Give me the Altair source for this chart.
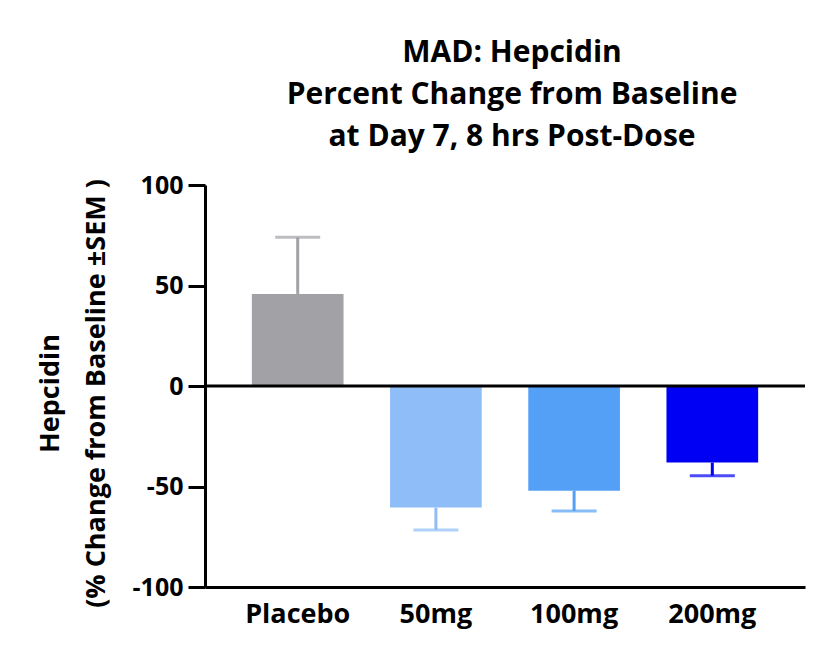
import altair as alt
import pandas as pd

groups = ["Placebo", "50mg", "100mg", "200mg"]
means = [45.8, -60.5, -52.1, -38.1]
sems = [28.2, 11.1, 10.1, 6.5]
colors = ["#a2a1a6", "#8fbdf7", "#55a0f7", "#0000f5"]

df = pd.DataFrame({"group": groups, "mean": means, "sem": sems, "color": colors})
df["err_end"] = [m + s if m >= 0 else m - s for m, s in zip(means, sems)]

FONT = "Open Sans"

x_enc = alt.X("group:N", sort=groups,
              scale=alt.Scale(paddingInner=0.3366, paddingOuter=0.339),
              axis=alt.Axis(title=None, ticks=False, domainWidth=3, domainColor="black",
                            labelFontSize=27, labelFont=FONT, labelFontWeight="bold",
                            labelColor="black", labelPadding=14, labelAngle=0))
y_scale = alt.Scale(domain=[-100, 100], nice=False, zero=False)

bars = alt.Chart(df).mark_bar().encode(
    x=x_enc,
    y=alt.Y("mean:Q", scale=y_scale,
            axis=alt.Axis(values=[-100, -50, 0, 50, 100], grid=False,
                          labelExpr="datum.value + ''",
                          title=["Hepcidin", "(% Change from Baseline ±SEM )"],
                          titleFont=FONT, titleFontSize=27, titleFontWeight="bold",
                          titleColor="black", titleLineHeight=46,
                          titleAngle=270, titleBaseline="bottom", titleAlign="center",
                          titleX=-141, titleY=208,
                          labelFont=FONT, labelFontSize=25, labelFontWeight="bold",
                          labelColor="black", labelPadding=5,
                          tickSize=17, tickWidth=3, tickColor="black",
                          domainWidth=3, domainColor="black")),
    y2=alt.datum(0),
    color=alt.Color("color:N", scale=None),
)

stems = alt.Chart(df).mark_rule(strokeWidth=3).encode(
    x=alt.X("group:N", sort=groups),
    y=alt.Y("mean:Q"),
    y2="err_end:Q",
    color=alt.Color("color:N", scale=None),
)

caps = alt.Chart(df).mark_tick(size=45, thickness=3).encode(
    x=alt.X("group:N", sort=groups),
    y=alt.Y("err_end:Q"),
    color=alt.Color("color:N", scale=None),
)

zero = alt.Chart(pd.DataFrame({"z": [0]})).mark_rule(strokeWidth=3, color="black").encode(
    y=alt.Y("z:Q"),
)

chart = alt.layer(bars, stems, caps, zero).properties(
    width=600, height=402,
    title=alt.TitleParams(
        text=["MAD: Hepcidin", "Percent Change from Baseline", "at Day 7, 8 hrs Post-Dose"],
        font=FONT, fontSize=30, fontWeight="bold", color="black",
        lineHeight=42, anchor="middle", dx=7, offset=21,
    ),
    padding={"left": 197, "top": 177, "right": 10, "bottom": 60},
    autosize=alt.AutoSizeParams(type="none"),
).configure_view(stroke=None).configure_axis(labelOverlap=False)

chart.save("out.html", embed_options={"renderer": "svg", "actions": False})
